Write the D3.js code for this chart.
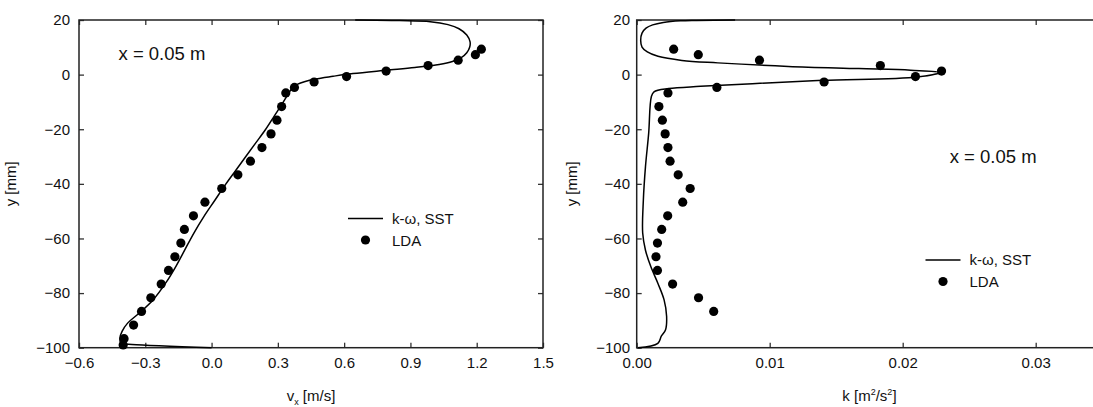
<!DOCTYPE html>
<html>
<head>
<meta charset="utf-8">
<script src="https://cdn.jsdelivr.net/npm/d3@7"></script>
<style>
  body { margin: 0; background: #fff; }
  svg { display: block; font-family: "Liberation Sans", Arial, sans-serif; }
</style>
</head>
<body>
<svg id="chart" width="1093" height="407"></svg>
<script>
// y positions of the LDA traverse (mm)
const lda_y = [9.3, 7.3, 5.3, 3.3, 1.3, -0.7, -2.7, -4.7, -6.7, -11.7, -16.7, -21.7, -26.7, -31.7,
    -36.7, -41.7, -46.7, -51.7, -56.7, -61.7, -66.7, -71.7, -76.7, -81.7, -86.7, -91.7, -96.7, -99];
const lda_vx = [1.221, 1.194, 1.116, 0.980, 0.790, 0.611, 0.464, 0.375, 0.336, 0.317, 0.296, 0.269,
    0.228, 0.176, 0.119, 0.046, -0.030, -0.082, -0.123, -0.139, -0.166, -0.195, -0.228, -0.275,
    -0.317, -0.353, -0.396, -0.400];
const lda_k = [0.00278, 0.00463, 0.00923, 0.01832, 0.02292, 0.02096, 0.01409, 0.00603, 0.00235,
    0.00167, 0.00193, 0.00214, 0.00235, 0.00251, 0.00312, 0.00402, 0.00346, 0.00233, 0.00188,
    0.00156, 0.00145, 0.00156, 0.0027, 0.00465, 0.00579];

// k-omega SST profiles
const sst_vx_y = [20, 19.8, 19.4, 18.3, 16.8, 14.5, 12, 10, 8, 6.2, 4.8, 3.7, 2.6, 1.6, 0.4, -0.6,
    -1.6, -2.6, -3.5, -4.5, -6, -8, -10, -15, -20, -25, -30, -35, -40, -46, -52, -58, -64, -70,
    -76, -82.5, -87.5, -91, -94, -96.5, -98.4, -98.8, -100];
const sst_vx = [0.65, 0.85, 0.99, 1.07, 1.12, 1.155, 1.17, 1.168, 1.155, 1.13, 1.09, 1.03, 0.92,
    0.79, 0.64, 0.55, 0.47, 0.42, 0.39, 0.37, 0.355, 0.34, 0.325, 0.285, 0.245, 0.2, 0.155, 0.11,
    0.065, 0.015, -0.035, -0.08, -0.12, -0.16, -0.205, -0.265, -0.33, -0.38, -0.405, -0.415,
    -0.41, -0.36, 0.0];
const sst_k_y = [20, 19.85, 19.7, 19.1, 18.2, 17, 15.2, 12.5, 10.1, 8.3, 6.7, 5.2, 4.3, 3.0, 2.2,
    1.6, 0.8, -0.85, -2.1, -3.3, -4.3, -5.1, -6.3, -8.1, -21.5, -33.7, -46, -58, -64.3, -70.3,
    -76.4, -82.5, -88.6, -93.4, -95.8, -98.4, -100];
const sst_k = [0.0074, 0.0045, 0.0033, 0.0020, 0.0012, 0.0007, 0.0004, 0.0003, 0.0004, 0.0008,
    0.0016, 0.0034, 0.0061, 0.0114, 0.0167, 0.0206, 0.0228, 0.0211, 0.014, 0.0087, 0.0048, 0.0024,
    0.0013, 0.0011, 0.0009, 0.00066, 0.0005, 0.00045, 0.00066, 0.00106, 0.00159, 0.00206, 0.00225,
    0.00217, 0.00185, 0.00159, 0.0001];

const y_ticks = [20, 0, -20, -40, -60, -80, -100];
const vx_ticks = [-0.6, -0.3, 0.0, 0.3, 0.6, 0.9, 1.2, 1.5];
const k_ticks = [0.00, 0.01, 0.02, 0.03];

const svg = d3.select('#chart');
const FONT = '15px';

const draw_panel = function(p) {
    var x = d3.scaleLinear().domain(p.x_domain).range([p.left, p.left + p.width]),
    y = d3.scaleLinear().domain([-100, 20]).range([347.7, 20]);
    var g = svg.append('g');

    // inward ticks on all four sides
    g.append('g').attr('transform', 'translate(0,' + y(-100) + ')')
        .call(d3.axisBottom(x).tickValues(p.x_ticks).tickFormat(d3.format(p.x_fmt))
            .tickSizeInner(-5).tickSizeOuter(0).tickPadding(10));
    g.append('g').attr('transform', 'translate(0,' + y(20) + ')')
        .call(d3.axisTop(x).tickValues(p.x_ticks).tickFormat('').tickSizeInner(-5).tickSizeOuter(0));
    g.append('g').attr('transform', 'translate(' + x(p.x_domain[0]) + ',0)')
        .call(d3.axisLeft(y).tickValues(y_ticks).tickSizeInner(-5).tickSizeOuter(0).tickPadding(p.y_pad));
    g.append('g').attr('transform', 'translate(' + x(p.x_domain[1]) + ',0)')
        .call(d3.axisRight(y).tickValues(y_ticks).tickFormat('').tickSizeInner(-5).tickSizeOuter(0));
    g.selectAll('.domain').remove();
    g.selectAll('.tick line').attr('stroke', '#333').attr('stroke-width', 1.3);
    g.selectAll('.tick text').attr('font-size', FONT).attr('fill', '#111').attr('font-family', null);

    g.append('rect')
        .attr('x', x(p.x_domain[0])).attr('y', y(20))
        .attr('width', x(p.x_domain[1]) - x(p.x_domain[0]))
        .attr('height', y(-100) - y(20))
        .attr('fill', 'none').attr('stroke', '#222').attr('stroke-width', 1.5);

    // simulation line
    var line = d3.line()
        .x(function(d) { return x(d[0]); })
        .y(function(d) { return y(d[1]); })
        .curve(d3.curveCatmullRom.alpha(0.5));
    g.append('path')
        .datum(d3.zip(p.sst, p.sst_y))
        .attr('d', line)
        .attr('fill', 'none').attr('stroke', '#000').attr('stroke-width', 1.5);

    // LDA measurements
    g.selectAll('.lda').data(d3.zip(p.lda, lda_y.slice(0, p.lda.length)))
        .enter()
        .append('circle')
        .attr('cx', function(d) { return x(d[0]); })
        .attr('cy', function(d) { return y(d[1]); })
        .attr('r', 4.6)
        .attr('fill', '#000');

    // station label
    g.append('text').attr('x', p.note_x).attr('y', p.note_y)
        .attr('font-size', '18.5px').attr('fill', '#111').text('x = 0.05 m');

    // legend
    var lg = g.append('g').attr('transform', 'translate(' + p.leg_x + ',' + p.leg_y + ')');
    lg.append('line').attr('x1', 0).attr('x2', 35).attr('y1', 0).attr('y2', 0)
        .attr('stroke', '#000').attr('stroke-width', 1.5);
    lg.append('text').attr('x', 44).attr('y', 5.3).attr('font-size', FONT).attr('fill', '#111')
        .text('k-\u03c9, SST');
    lg.append('circle').attr('cx', 17.5).attr('cy', 21.5).attr('r', 4.6).attr('fill', '#000');
    lg.append('text').attr('x', 44).attr('y', 27.3).attr('font-size', FONT).attr('fill', '#111')
        .text('LDA');

    // axis titles
    svg.append('text')
        .attr('transform', 'translate(' + p.ytitle_x + ',' + y(-40) + ') rotate(-90)')
        .attr('text-anchor', 'middle').attr('font-size', FONT).attr('fill', '#111')
        .text('y [mm]');
    var t = svg.append('text')
        .attr('x', (x.range()[0] + x.range()[1]) / 2).attr('y', 401)
        .attr('text-anchor', 'middle').attr('font-size', FONT).attr('fill', '#111');
    p.xtitle(t);
};

draw_panel({
    left: 79, width: 464, x_domain: [-0.6, 1.5], x_ticks: vx_ticks, x_fmt: '.1f', y_pad: 9,
    sst: sst_vx, sst_y: sst_vx_y, lda: lda_vx,
    note_x: 118.5, note_y: 60, leg_x: 348, leg_y: 218.5, ytitle_x: 16,
    xtitle: function(t) {
        t.append('tspan').text('v');
        t.append('tspan').attr('font-size', '9px').attr('dy', 4).text('x');
        t.append('tspan').attr('dy', -4).text(' [m/s]');
    }
});

draw_panel({
    left: 636.7, width: 465.5, x_domain: [0, 0.035], x_ticks: k_ticks, x_fmt: '.2f', y_pad: 6.7,
    sst: sst_k, sst_y: sst_k_y, lda: lda_k,
    note_x: 949.7, note_y: 162.7, leg_x: 925.5, leg_y: 260, ytitle_x: 577,
    xtitle: function(t) {
        t.append('tspan').text('k  [m');
        t.append('tspan').attr('font-size', '9px').attr('dy', -6).text('2');
        t.append('tspan').attr('dy', 6).text('/s');
        t.append('tspan').attr('font-size', '9px').attr('dy', -6).text('2');
        t.append('tspan').attr('dy', 6).text(']');
    }
});
</script>
</body>
</html>
